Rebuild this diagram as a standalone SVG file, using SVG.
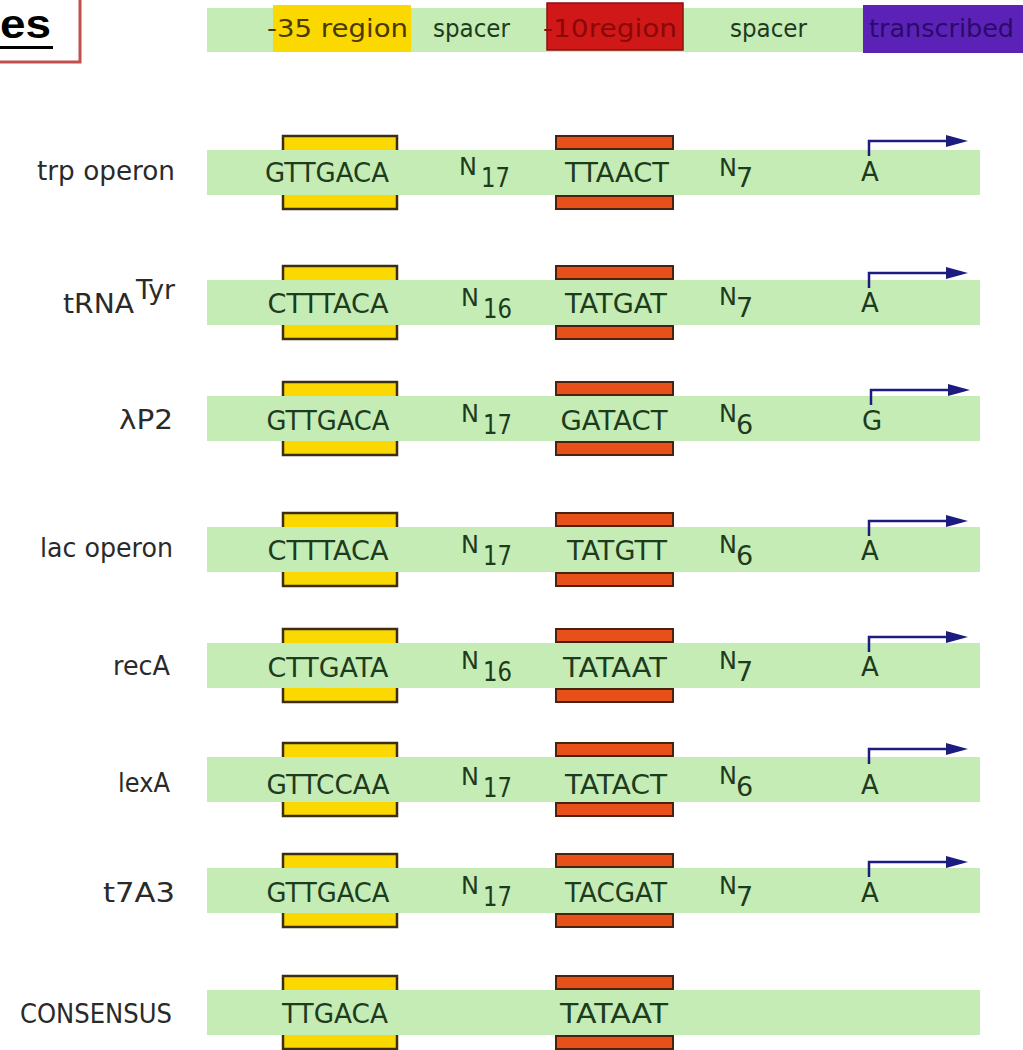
<svg xmlns="http://www.w3.org/2000/svg" width="1023" height="1050" viewBox="0 0 1023 1050">
<style>
.bar{fill:#c5ecb5}
.lbl{font-family:"DejaVu Sans",sans-serif;font-size:26px;fill:#2a2a2a;text-anchor:end}
.seq{font-family:"DejaVu Sans",sans-serif;font-size:26px;fill:#1d3b1d;text-anchor:middle}
.n{font-family:"DejaVu Sans",sans-serif;font-size:24px;fill:#1d3b1d}
.s{font-family:"DejaVu Sans",sans-serif;font-size:27px;fill:#1d3b1d}
.hd{font-family:"DejaVu Sans",sans-serif;font-size:25px}
.arr{fill:none;stroke:#1c1c80;stroke-width:2.5}
</style>
<defs>
<g id="yb">
<rect x="282" y="-14" width="116" height="14" fill="#fad800"/>
<path d="M283,0 V-14 H397 V0" fill="none" stroke="#3c2e14" stroke-width="2.5"/>
<rect x="282" y="45" width="116" height="14" fill="#fad800"/>
<path d="M283,45 V59 H397 V45" fill="none" stroke="#3c2e14" stroke-width="2.5"/>
</g>
<g id="rb">
<rect x="556" y="-14" width="117" height="13" fill="#e8501a" stroke="#4a2210" stroke-width="2"/>
<rect x="556" y="46" width="117" height="13" fill="#e8501a" stroke="#4a2210" stroke-width="2"/>
</g>
<g id="tss">
<path class="arr" d="M869,7 V-8 H950"/>
<polygon points="946,-14 968,-8 946,-2" fill="#1c1c80"/>
</g>
</defs>
<rect width="1023" height="1050" fill="#ffffff"/>
<g id="title">
<rect x="-3" y="-3" width="83" height="65" fill="#ffffff" stroke="#c0504d" stroke-width="3"/>
<text x="0" y="38" font-family="Liberation Sans, Arial, sans-serif" font-weight="bold" font-size="40" fill="#000000" textLength="51" lengthAdjust="spacingAndGlyphs">es</text>
<rect x="0" y="46" width="53" height="3" fill="#000000"/>
</g>
<g id="header">
<rect x="207" y="8" width="816" height="44" class="bar"/>
<rect x="273" y="5" width="138" height="47" fill="#fad800"/>
<rect x="547" y="3" width="136" height="47" fill="#d01818" stroke="#8a1010" stroke-width="1.5"/>
<rect x="863" y="5" width="160" height="48" fill="#5c22b8"/>
<text class="hd" x="267" y="37" fill="#4a3a00" textLength="141" lengthAdjust="spacingAndGlyphs">-35 region</text>
<text class="hd" x="433" y="37" fill="#1d3b1d" textLength="77" lengthAdjust="spacingAndGlyphs">spacer</text>
<text class="hd" x="543" y="37" fill="#8a0808" textLength="134" lengthAdjust="spacingAndGlyphs">-10region</text>
<text class="hd" x="730" y="37" fill="#1d3b1d" textLength="77" lengthAdjust="spacingAndGlyphs">spacer</text>
<text class="hd" x="869" y="37" fill="#2a0a6a" textLength="145" lengthAdjust="spacingAndGlyphs">transcribed</text>
</g>

<g id="row-trp" transform="translate(0,150)">
<rect x="207" y="0" width="773" height="45" class="bar"/>
<use href="#yb"/><use href="#rb"/>
<text class="lbl" x="175" y="30" textLength="138" lengthAdjust="spacingAndGlyphs">trp operon</text>
<text class="seq" x="327" y="32" textLength="124" lengthAdjust="spacingAndGlyphs">GTTGACA</text>
<text class="n" x="459" y="25">N</text><text class="s" x="481" y="37" textLength="29" lengthAdjust="spacingAndGlyphs">17</text>
<text class="seq" x="617" y="32" textLength="104" lengthAdjust="spacingAndGlyphs">TTAACT</text>
<text class="n" x="719" y="26">N</text><text class="s" x="736" y="37">7</text>
<text class="seq" x="870" y="31" font-size="24">A</text>
</g>

<g id="row-trna" transform="translate(0,280)">
<rect x="207" y="0" width="773" height="45" class="bar"/>
<use href="#yb"/><use href="#rb"/>
<text class="lbl" x="134" y="33" textLength="71" lengthAdjust="spacingAndGlyphs">tRNA</text>
<text class="lbl" x="175" y="19" font-size="22" textLength="39" lengthAdjust="spacingAndGlyphs">Tyr</text>
<text class="seq" x="328" y="33" textLength="121" lengthAdjust="spacingAndGlyphs">CTTTACA</text>
<text class="n" x="461" y="26">N</text><text class="s" x="483" y="38" textLength="29" lengthAdjust="spacingAndGlyphs">16</text>
<text class="seq" x="616" y="33" textLength="102" lengthAdjust="spacingAndGlyphs">TATGAT</text>
<text class="n" x="719" y="25">N</text><text class="s" x="736" y="37">7</text>
<text class="seq" x="870" y="32" font-size="24">A</text>
</g>

<g id="row-lp2" transform="translate(0,396)">
<rect x="207" y="0" width="773" height="45" class="bar"/>
<use href="#yb"/><use href="#rb"/>
<text class="lbl" x="173" y="33" textLength="54" lengthAdjust="spacingAndGlyphs">λP2</text>
<text class="seq" x="328" y="34" textLength="123" lengthAdjust="spacingAndGlyphs">GTTGACA</text>
<text class="n" x="461" y="26">N</text><text class="s" x="483" y="38" textLength="29" lengthAdjust="spacingAndGlyphs">17</text>
<text class="seq" x="614" y="34" textLength="107" lengthAdjust="spacingAndGlyphs">GATACT</text>
<text class="n" x="719" y="26">N</text><text class="s" x="736" y="38">6</text>
<text class="seq" x="872" y="34" font-size="24">G</text>
</g>

<g id="row-lac" transform="translate(0,527)">
<rect x="207" y="0" width="773" height="45" class="bar"/>
<use href="#yb"/><use href="#rb"/>
<text class="lbl" x="173" y="30" textLength="133" lengthAdjust="spacingAndGlyphs">lac operon</text>
<text class="seq" x="328" y="33" textLength="121" lengthAdjust="spacingAndGlyphs">CTTTACA</text>
<text class="n" x="461" y="26">N</text><text class="s" x="483" y="38" textLength="29" lengthAdjust="spacingAndGlyphs">17</text>
<text class="seq" x="617" y="33" textLength="100" lengthAdjust="spacingAndGlyphs">TATGTT</text>
<text class="n" x="719" y="26">N</text><text class="s" x="736" y="38">6</text>
<text class="seq" x="870" y="33" font-size="24">A</text>
</g>

<g id="row-reca" transform="translate(0,643)">
<rect x="207" y="0" width="773" height="45" class="bar"/>
<use href="#yb"/><use href="#rb"/>
<text class="lbl" x="170" y="32" textLength="57" lengthAdjust="spacingAndGlyphs">recA</text>
<text class="seq" x="328" y="34" textLength="121" lengthAdjust="spacingAndGlyphs">CTTGATA</text>
<text class="n" x="461" y="26">N</text><text class="s" x="483" y="38" textLength="29" lengthAdjust="spacingAndGlyphs">16</text>
<text class="seq" x="615" y="34" textLength="104" lengthAdjust="spacingAndGlyphs">TATAAT</text>
<text class="n" x="719" y="26">N</text><text class="s" x="736" y="38">7</text>
<text class="seq" x="870" y="33" font-size="24">A</text>
</g>

<g id="row-lexa" transform="translate(0,757)">
<rect x="207" y="0" width="773" height="45" class="bar"/>
<use href="#yb"/><use href="#rb"/>
<text class="lbl" x="170" y="35" textLength="52" lengthAdjust="spacingAndGlyphs">lexA</text>
<text class="seq" x="328" y="37" textLength="123" lengthAdjust="spacingAndGlyphs">GTTCCAA</text>
<text class="n" x="461" y="28">N</text><text class="s" x="483" y="40" textLength="29" lengthAdjust="spacingAndGlyphs">17</text>
<text class="seq" x="616" y="37" textLength="102" lengthAdjust="spacingAndGlyphs">TATACT</text>
<text class="n" x="719" y="27">N</text><text class="s" x="736" y="39">6</text>
<text class="seq" x="870" y="37" font-size="24">A</text>
</g>

<g id="row-t7a3" transform="translate(0,868)">
<rect x="207" y="0" width="773" height="45" class="bar"/>
<use href="#yb"/><use href="#rb"/>
<text class="lbl" x="175" y="34" textLength="72" lengthAdjust="spacingAndGlyphs">t7A3</text>
<text class="seq" x="328" y="34" textLength="123" lengthAdjust="spacingAndGlyphs">GTTGACA</text>
<text class="n" x="461" y="26">N</text><text class="s" x="483" y="38" textLength="29" lengthAdjust="spacingAndGlyphs">17</text>
<text class="seq" x="616" y="34" textLength="102" lengthAdjust="spacingAndGlyphs">TACGAT</text>
<text class="n" x="719" y="26">N</text><text class="s" x="736" y="38">7</text>
<text class="seq" x="870" y="34" font-size="24">A</text>
</g>

<g id="row-consensus" transform="translate(0,990)">
<rect x="207" y="0" width="773" height="45" class="bar"/>
<use href="#yb"/><use href="#rb"/>
<text class="lbl" x="172" y="33" textLength="152" lengthAdjust="spacingAndGlyphs">CONSENSUS</text>
<text class="seq" x="335" y="33" textLength="106" lengthAdjust="spacingAndGlyphs">TTGACA</text>
<text class="seq" x="614" y="33" textLength="108" lengthAdjust="spacingAndGlyphs">TATAAT</text>
</g>

<g id="connectors">
<use href="#tss" transform="translate(0,149)"/>
<use href="#tss" transform="translate(0,281)"/>
<use href="#tss" transform="translate(2,398)"/>
<use href="#tss" transform="translate(0,529)"/>
<use href="#tss" transform="translate(0,645)"/>
<use href="#tss" transform="translate(0,757)"/>
<use href="#tss" transform="translate(0,870)"/>
</g>
</svg>
